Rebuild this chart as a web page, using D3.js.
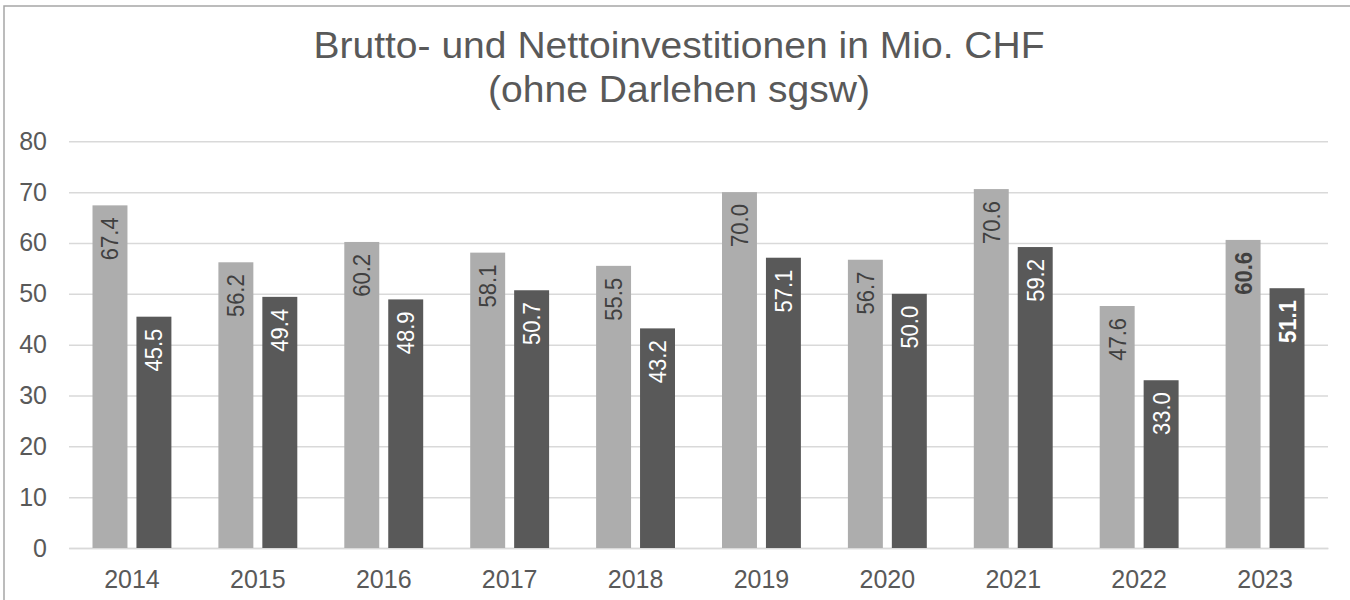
<!DOCTYPE html>
<html>
<head>
<meta charset="utf-8">
<script src="https://cdn.jsdelivr.net/npm/d3@7"></script>
<style>
  html, body { margin: 0; padding: 0; background: #fff; }
  svg { display: block; font-family: "Liberation Sans", Arial, sans-serif; }
</style>
</head>
<body>
<svg id="chart" width="1350" height="600"></svg>
<script>
const years = ["2014","2015","2016","2017","2018","2019","2020","2021","2022","2023"];
const brutto = [67.4, 56.2, 60.2, 58.1, 55.5, 70.0, 56.7, 70.6, 47.6, 60.6];
const netto = [45.5, 49.4, 48.9, 50.7, 43.2, 57.1, 50.0, 59.2, 33.0, 51.1];
const yTicks = [0, 10, 20, 30, 40, 50, 60, 70, 80];
const titleLines = ["Brutto- und Nettoinvestitionen in Mio. CHF", "(ohne Darlehen sgsw)"];
const seriesNames = ["Brutto", "Netto"];
const boldYears = ["2023"];

(function() {
const svg = d3.select("#chart");
const pLeft = 69, pRight = 1328, pTop = 141.3, pBottom = 548;
const stretch = 1.07;

// chart border
svg.append("rect").attr("x", 4).attr("y", 6).attr("width", 1360).attr("height", 620)
  .attr("fill", "none").attr("stroke", "#A6A6A6").attr("stroke-width", 1.5);

// title
svg.append("g").selectAll("text").data(titleLines).join("text")
  .attr("transform", (d, i) => `translate(679,${57.7 + i * 44}) scale(${stretch},1)`)
  .attr("text-anchor", "middle").attr("font-size", 36.5).attr("fill", "#595959")
  .text(d => d);

const x0 = d3.scaleBand().domain(years).range([pLeft, pRight]).padding(0);
const groupPad = 23.5;
const x1 = d3.scaleBand().domain(seriesNames)
  .range([groupPad, x0.bandwidth() - groupPad]).paddingInner(9 / 44).paddingOuter(0);
const y = d3.scaleLinear().domain([0, 80]).range([pBottom, pTop]);

// gridlines
const yAxis = d3.axisLeft(y).tickValues(yTicks).tickSize(-(pRight - pLeft)).tickPadding(22).tickFormat(d3.format("d"));
const gy = svg.append("g").attr("transform", `translate(${pLeft},0)`).call(yAxis);
gy.select(".domain").remove();
gy.selectAll(".tick line").attr("stroke", "#D9D9D9").attr("stroke-width", 1.5);
gy.selectAll(".tick text").attr("font-size", 25).attr("fill", "#595959")
  .attr("font-family", "Liberation Sans, Arial, sans-serif");

// x axis labels
const xAxis = d3.axisBottom(x0).tickSize(0).tickPadding(22);
const gx = svg.append("g").attr("transform", `translate(0,${pBottom})`).call(xAxis);
gx.select(".domain").attr("stroke", "#D9D9D9").attr("stroke-width", 1.5);
gx.selectAll(".tick text").attr("font-size", 25).attr("fill", "#595959")
  .attr("font-family", "Liberation Sans, Arial, sans-serif");

const rows = years.map((yr, i) => ({ year: yr, vals: [
  { s: "Brutto", v: brutto[i], fill: "#ADADAD", label: "#404040" },
  { s: "Netto", v: netto[i], fill: "#595959", label: "#FFFFFF" }
]}));

const groups = svg.append("g").selectAll("g").data(rows).join("g")
  .attr("transform", d => `translate(${x0(d.year)},0)`);

groups.selectAll("rect").data(d => d.vals).join("rect")
  .attr("x", d => x1(d.s)).attr("width", x1.bandwidth())
  .attr("y", d => y(d.v)).attr("height", d => y(0) - y(d.v))
  .attr("fill", d => d.fill);

groups.each(function(row) {
  d3.select(this).selectAll("text.lbl").data(row.vals).join("text")
    .attr("class", "lbl")
    .attr("transform", d => `translate(${x1(d.s) + x1.bandwidth() / 2 + 8.5},${y(d.v) + 12}) scale(${stretch},1) rotate(-90)`)
    .attr("text-anchor", "end")
    .attr("font-size", 22)
    .attr("font-weight", boldYears.includes(row.year) ? "bold" : "normal")
    .attr("fill", d => d.label)
    .text(d => d.v.toFixed(1));
});
})();
</script>
</body>
</html>
